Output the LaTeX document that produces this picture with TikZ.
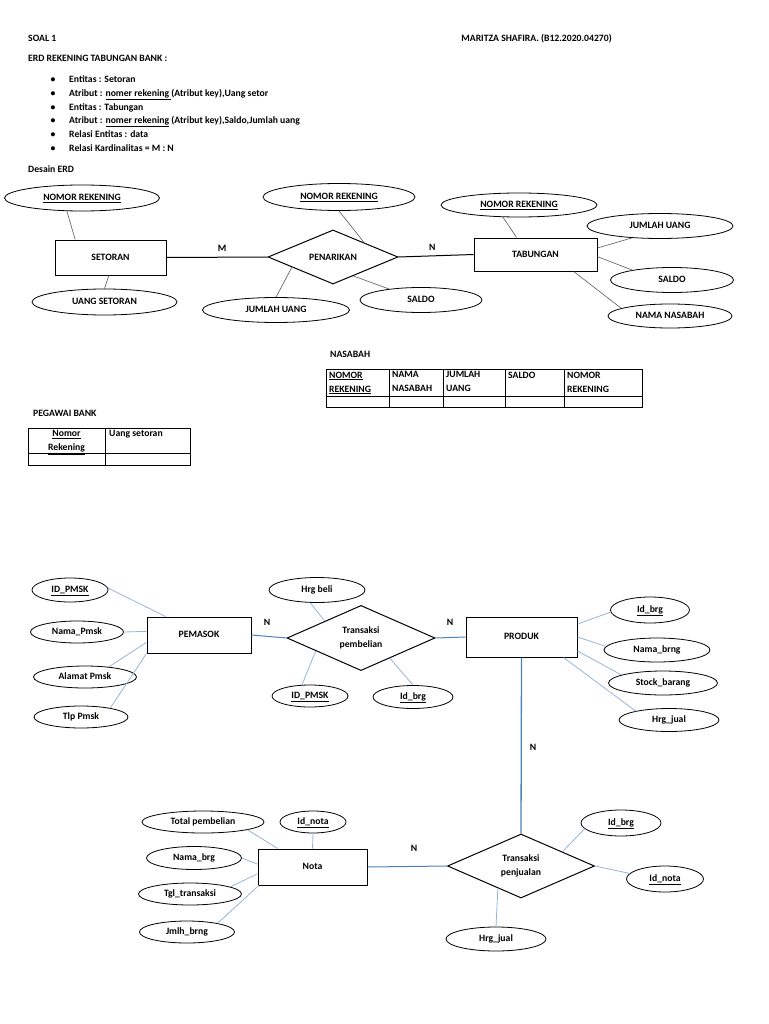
\documentclass[tikz,border=0pt]{standalone}
\usepackage{fontspec}
\setmainfont{Carlito}
\usepackage{tikz}
\usetikzlibrary{shapes.geometric}
\definecolor{garisbiru}{RGB}{79,129,189}
\definecolor{garismuda}{RGB}{149,182,218}
\newcommand{\hurufkecil}{\fontsize{9.7}{14}\selectfont\bfseries}

\tikzset{
  every node/.style={font=\hurufkecil},
  entitas/.style={draw,line width=1pt,rectangle,inner sep=0pt,text height=6.5pt,text depth=1.5pt},
  relasi/.style={draw,line width=1pt,diamond,inner sep=0pt,align=center},
  atribut/.style={draw,line width=0.8pt,ellipse,inner sep=0pt,minimum height=24,text height=6.5pt,text depth=1.5pt},
  teks/.style={anchor=west,inner sep=0pt,text height=6.5pt,text depth=1.5pt},
  garis/.style={gray!70!black,line width=0.6pt},
  hubung/.style={black,line width=1pt},
  garisB/.style={garismuda,line width=0.8pt},
  hubungB/.style={garisbiru,line width=1pt},
}

\begin{document}
\begin{tikzpicture}[x=1pt,y=-1pt]
  \fill[white] (0,0) rectangle (768,1024);
  \useasboundingbox (0,0) rectangle (768,1024);

  % kepala halaman
  \node[teks] (soal) at (28,39) {SOAL 1};
  \node[teks,anchor=east] (penulis) at (612,39) {MARITZA SHAFIRA. (B12.2020.04270)};
  \node[teks] (judul) at (28,59) {ERD REKENING TABUNGAN BANK :};
  \foreach \y in {80,94,108,121,135,149}
    \node[inner sep=0pt] (bul\y) at (53,\y) {\textbullet};
  \node[teks] (isi1) at (69,80) {Entitas : Setoran};
  \node[teks] (isi2) at (69,94) {Atribut : \underline{nomer rekening\ }(Atribut key),Uang setor};
  \node[teks] (isi3) at (69,108) {Entitas : Tabungan};
  \node[teks] (isi4) at (69,121) {Atribut : \underline{nomer rekening} (Atribut key),Saldo,Jumlah uang};
  \node[teks] (isi5) at (69,135) {Relasi Entitas : data};
  \node[teks] (isi6) at (69,149) {Relasi Kardinalitas = M : N};
  \node[teks] (desain) at (28,170) {Desain ERD};

  % ERD rekening tabungan
  \node[atribut,minimum width=155,minimum height=26] (norekS) at (82,198) {\underline{NOMOR REKENING}};
  \node[entitas,minimum width=111,minimum height=35] (setoran) at (110.5,257.5) {SETORAN};
  \node[atribut,minimum width=145,minimum height=26] (uangS) at (104.5,302) {UANG SETORAN};
  \node[relasi,minimum width=130,minimum height=42] (penarikan) at (333,257) {PENARIKAN};
  \node[atribut,minimum width=152,minimum height=27] (norekP) at (339,197) {\underline{NOMOR REKENING}};
  \node[atribut,minimum width=147,minimum height=25] (jumlahP) at (276,310) {JUMLAH UANG};
  \node[atribut,minimum width=122,minimum height=25] (saldoP) at (421,300) {SALDO};
  \node[entitas,minimum width=123,minimum height=33] (tabungan) at (535.5,254.5) {TABUNGAN};
  \node[atribut,minimum width=156] (norekT) at (519,205) {\underline{NOMOR REKENING}};
  \node[atribut,minimum width=146,minimum height=25] (jumlahT) at (660,226) {JUMLAH UANG};
  \node[atribut,minimum width=123,minimum height=25] (saldoT) at (672,280) {SALDO};
  \node[atribut,minimum width=124] (namaT) at (670,316) {NAMA NASABAH};

  \draw[garis] (norekS.221) -- (setoran.153);
  \draw[garis] (setoran.265) -- (uangS.north);
  \draw[hubung] (setoran.east) -- (penarikan.west) node[pos=0.55,above=2pt] (kM) {M};
  \draw[garis] (norekP.south) -- (penarikan.25);
  \draw[garis] (penarikan.194) -- (jumlahP.north);
  \draw[garis] (penarikan.317) -- (saldoP.161);
  \draw[hubung] (penarikan.east) -- (tabungan.west) node[pos=0.45,above=2pt] (kN) {N};
  \draw[garis] (norekT.217) -- (tabungan.138);
  \draw[garis] (tabungan.6) -- (jumlahT.203);
  \draw[garis] (tabungan.358) -- (saldoT.166);
  \draw[garis] (tabungan.336) -- (namaT.171);

  % tabel nasabah
  \node[teks] (lblNasabah) at (330,355) {NASABAH};
  \draw[line width=0.8pt] (326,369) rectangle (642,407);
  \draw[line width=0.8pt] (326,396) -- (642,396);
  \foreach \x in {389,443,505,564}
    \draw[line width=0.8pt] (\x,369) -- (\x,407);
  \node[inner sep=0pt,anchor=north west,align=left] (kol1) at (329,371.5) {\underline{NOMOR}\\\underline{REKENING}};
  \node[inner sep=0pt,anchor=north west,align=left] (kol2) at (392,371.5) {NAMA\\NASABAH};
  \node[inner sep=0pt,anchor=north west,align=left] (kol3) at (446,371.5) {JUMLAH\\UANG};
  \node[inner sep=0pt,anchor=north west,align=left] (kol4) at (508,371.5) {SALDO};
  \node[inner sep=0pt,anchor=north west,align=left] (kol5) at (567,371.5) {NOMOR\\REKENING};

  % tabel pegawai bank
  \node[teks] (lblPegawai) at (33,414) {PEGAWAI BANK};
  \draw[line width=0.8pt] (28,428) rectangle (190,465);
  \draw[line width=0.8pt] (28,453) -- (190,453);
  \draw[line width=0.8pt] (105,428) -- (105,465);
  \node[inner sep=0pt,anchor=north,align=center] (pkol1) at (66.5,430.5) {\underline{Nomor}\\\underline{Rekening}};
  \node[inner sep=0pt,anchor=north west] (pkol2) at (109,430.5) {Uang setoran};

  % ERD pembelian dan penjualan
  \node[entitas,minimum width=104,minimum height=36] (pemasok) at (199,635) {PEMASOK};
  \node[atribut,minimum width=76] (idP) at (70,590) {\underline{ID\_PMSK}};
  \node[atribut,minimum width=93,minimum height=22] (namaP) at (77,632) {Nama\_Pmsk};
  \node[atribut,minimum width=103,minimum height=22] (alamatP) at (85,677) {Alamat Pmsk};
  \node[atribut,minimum width=94,minimum height=22] (tlpP) at (81,717) {Tlp Pmsk};
  \node[relasi,minimum width=148,minimum height=63] (pembelian) at (361,638) {Transaksi\\pembelian};
  \node[atribut,minimum width=96,minimum height=25] (hrgBeli) at (317,590) {Hrg beli};
  \node[atribut,minimum width=76,minimum height=22] (idP2) at (310,696) {\underline{ID\_PMSK}};
  \node[atribut,minimum width=80,minimum height=23] (idBrgB) at (413,697) {\underline{Id\_brg}};
  \node[entitas,minimum width=111,minimum height=40] (produk) at (521.5,637) {PRODUK};
  \node[atribut,minimum width=79,minimum height=26] (idBrgP) at (650,610) {\underline{Id\_brg}};
  \node[atribut,minimum width=106] (namaBrng) at (657,650) {Nama\_brng};
  \node[atribut,minimum width=109] (stock) at (663,683) {Stock\_barang};
  \node[atribut,minimum width=100,minimum height=23] (hrgJualP) at (669,720) {Hrg\_jual};
  \node[relasi,minimum width=147,minimum height=64] (penjualan) at (521,866) {Transaksi\\penjualan};
  \node[atribut,minimum width=80,minimum height=26] (idBrgJ) at (621,823) {\underline{Id\_brg}};
  \node[atribut,minimum width=77,minimum height=26] (idNotaJ) at (665,879) {\underline{Id\_nota}};
  \node[atribut,minimum width=100] (hrgJualJ) at (496,939) {Hrg\_jual};
  \node[entitas,minimum width=109,minimum height=36] (nota) at (312.5,867) {Nota};
  \node[atribut,minimum width=66,minimum height=22] (idNota) at (313,822) {\underline{Id\_nota}};
  \node[atribut,minimum width=122,minimum height=22] (total) at (203,822) {Total pembelian};
  \node[atribut,minimum width=95,minimum height=23] (namaBrgN) at (194,858) {Nama\_brg};
  \node[atribut,minimum width=103,minimum height=22] (tgl) at (190,894) {Tgl\_transaksi};
  \node[atribut,minimum width=95,minimum height=22] (jmlh) at (187,932) {Jmlh\_brng};

  \draw[garisB] (idP.3) -- (pemasok.151);
  \draw[garisB] (namaP.east) -- (pemasok.176);
  \draw[garisB] (alamatP.23) -- (pemasok.188);
  \draw[garisB] (tlpP.17) -- (pemasok.south west);
  \draw[hubungB] (pemasok.east) -- (pembelian.west);
  \node (kN1) at (267,622) {N};
  \draw[garisB] (hrgBeli.242) -- (pembelian.155);
  \draw[garisB] (idP2.126) -- (pembelian.196);
  \draw[garisB] (idBrgB.north) -- (pembelian.325);
  \draw[hubungB] (pembelian.east) -- (produk.west);
  \node (kN2) at (450,622) {N};
  \draw[garisB] (produk.13) -- (idBrgP.183);
  \draw[garisB] (produk.east) -- (namaBrng.176);
  \draw[garisB] (produk.346) -- (stock.169);
  \draw[garisB] (produk.334) -- (hrgJualP.165);
  \draw[hubungB,line width=1.3pt] (produk.south) -- (penjualan.north);
  \node (kN3) at (533,747) {N};
  \draw[garisB] (penjualan.19) -- (idBrgJ.189);
  \draw[garisB] (penjualan.east) -- (idNotaJ.171);
  \draw[garisB] (penjualan.224) -- (hrgJualJ.north);
  \draw[hubungB] (nota.east) -- (penjualan.west);
  \node (kN4) at (414,848) {N};
  \draw[garisB] (idNota.south) -- (nota.north);
  \draw[garisB] (total.350) -- (nota.152);
  \draw[garisB] (namaBrgN.east) -- (nota.177);
  \draw[garisB] (tgl.10) -- (nota.187);
  \draw[garisB] (jmlh.16) -- (nota.199);
\end{tikzpicture}
\end{document}
